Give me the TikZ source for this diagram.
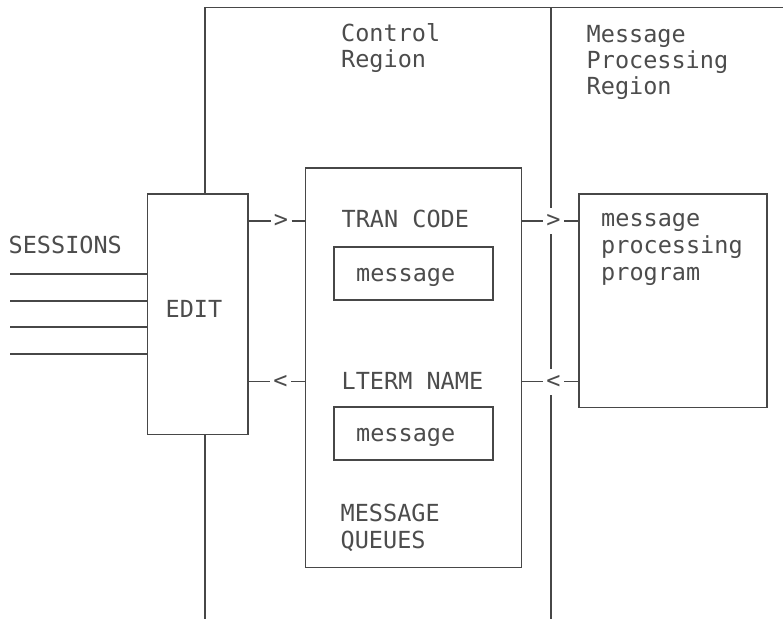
\documentclass[tikz,border=0pt]{standalone}
\usepackage{fontspec}
\setmonofont{DejaVu Sans Mono}
\begin{document}
\begin{tikzpicture}[x=1bp,y=-1bp,
  ln/.style={line width=1.1bp, draw=black!72},
  boxnode/.style={ln, inner sep=0pt, outer sep=0pt, anchor=north west},
  txt/.style={anchor=base west, inner sep=0pt, text=black!70,
    font=\ttfamily\fontsize{23.5bp}{25.5bp}\selectfont},
  arr/.style={fill=white, inner sep=0pt, outer sep=0pt, minimum width=21bp,
    minimum height=26bp, text=black!70,
    font=\ttfamily\fontsize{23.5bp}{25.5bp}\selectfont}]
\useasboundingbox (0,0) rectangle (783,619);

% boxes
\node[boxnode, minimum width=100.5bp, minimum height=240.5bp] (edit) at (147.5,194) {};
\node[boxnode, minimum width=216bp, minimum height=399.5bp] (queue) at (305.5,168) {};
\node[boxnode, minimum width=188bp, minimum height=213.5bp] (mpp) at (579,194) {};
\node[boxnode, minimum width=159bp, minimum height=53bp] (msg1) at (334,247) {};
\node[boxnode, minimum width=159bp, minimum height=53bp] (msg2) at (334,407) {};

% region frame
\coordinate (t1) at (205,7.5);
\coordinate (t2) at (783,7.5);
\coordinate (b1) at (205,619);
\coordinate (m1) at (551,7.5);
\coordinate (m2) at (551,619);
\draw[ln] (t2) -- (t1) -- (t1 |- edit.north);
\draw[ln] (edit.south -| b1) -- (b1);
\draw[ln] (m1) -- (m2);

% session lines
\coordinate (s1) at (10,274);
\coordinate (s2) at (10,301);
\coordinate (s3) at (10,327);
\coordinate (s4) at (10,354);
\foreach \s in {s1,s2,s3,s4} \draw[ln] (\s) -- (\s -| edit.west);

% arrows
\node[arr] (a1) at (281,221) {>};
\node[arr] (a2) at (553.5,221) {>};
\node[arr] (a3) at (280.5,381.5) {<};
\node[arr] (a4) at (553.5,381.5) {<};
\draw[ln] (edit.east |- a1) -- (a1.west);
\draw[ln] (a1.east) -- (queue.west |- a1);
\draw[ln] (queue.east |- a2) -- (a2.west);
\draw[ln] (a2.east) -- (mpp.west |- a2);
\draw[ln] (edit.east |- a3) -- (a3.west);
\draw[ln] (a3.east) -- (queue.west |- a3);
\draw[ln] (queue.east |- a4) -- (a4.west);
\draw[ln] (a4.east) -- (mpp.west |- a4);

% texts
\node[txt] (cr1) at (341,42) {Control};
\node[txt] (cr2) at (341,67.5) {Region};
\node[txt] (mr1) at (586.5,42.5) {Message};
\node[txt] (mr2) at (586.5,69) {Processing};
\node[txt] (mr3) at (586.5,95) {Region};
\node[txt] (sess) at (8.5,253) {SESSIONS};
\node[txt] (editlbl) at (165.5,317) {EDIT};
\node[txt] (tran) at (341.5,228) {TRAN CODE};
\node[txt] (m1t) at (356,281.5) {message};
\node[txt] (lterm) at (341.5,389) {LTERM NAME};
\node[txt] (m2t) at (356,441.5) {message};
\node[txt] (mq1) at (340.5,521) {MESSAGE};
\node[txt] (mq2) at (340.5,548) {QUEUES};
\node[txt] (p1) at (601,227) {message};
\node[txt] (p2) at (601,253.5) {processing};
\node[txt] (p3) at (601,280) {program};
\end{tikzpicture}
\end{document}
